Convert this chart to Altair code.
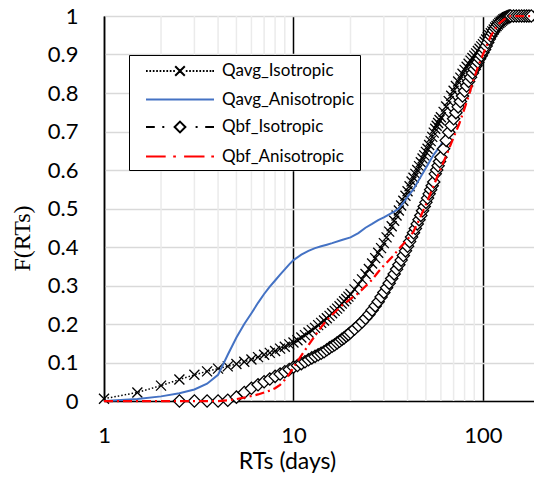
import altair as alt
import pandas as pd

SERIES = ["Qavg_Isotropic", "Qavg_Anisotropic", "Qbf_Isotropic", "Qbf_Anisotropic"]
COLORS = ["#000000", "#4472C4", "#000000", "#FF0000"]

# x grid (days) of the two marker series
ISO_X = [1, 1.5, 2, 2.5, 3, 3.5, 4, 4.5, 5, 5.5, 6, 6.5, 7, 7.5, 8, 8.5, 9, 9.5, 10,
         10.5, 11, 11.5, 12, 12.5, 13, 13.5, 14, 14.5, 15, 15.5, 16, 16.5, 17, 17.5, 18,
         18.5, 19, 19.5, 20,
         21, 22, 23, 24, 25, 26, 27, 28, 29, 30, 31, 32, 33, 34, 35, 36, 37, 38, 39, 40,
         41, 42, 43, 44, 45, 46, 47, 48, 49, 50, 51, 52, 53, 54, 55, 56, 57, 58, 59, 60,
         62, 64, 66, 68, 70, 72, 74, 76, 78, 80, 82, 84, 86, 88, 90, 92, 94, 96, 98, 100,
         102, 104, 106, 108, 110, 112, 114, 116, 118, 120, 122, 124, 126, 128, 130, 132,
         134, 136, 138, 140,
         145, 150, 155, 160, 165, 170, 175, 180]

QAVG_ISO = [0.006, 0.022, 0.04, 0.056, 0.068, 0.077, 0.084, 0.09, 0.096, 0.102, 0.108,
            0.114, 0.12, 0.125, 0.13, 0.136, 0.141, 0.147, 0.152,
            0.158, 0.165, 0.171, 0.178, 0.184, 0.19, 0.197, 0.203, 0.209, 0.215, 0.221,
            0.228, 0.234, 0.24, 0.246, 0.253, 0.259, 0.265, 0.271, 0.278,
            0.29, 0.303, 0.316, 0.33, 0.343, 0.357, 0.371, 0.385, 0.397, 0.41,
            0.425, 0.44, 0.454, 0.468, 0.482, 0.495, 0.508, 0.52, 0.533, 0.545,
            0.558, 0.57, 0.58, 0.59, 0.60, 0.61, 0.62, 0.63, 0.638, 0.647,
            0.655, 0.665, 0.675, 0.686, 0.697, 0.707, 0.715, 0.722, 0.73, 0.737,
            0.751, 0.765, 0.779, 0.793, 0.806, 0.818, 0.83, 0.84, 0.85, 0.86,
            0.868, 0.876, 0.884, 0.891, 0.897, 0.903, 0.909, 0.915, 0.921, 0.927,
            0.933, 0.939, 0.945, 0.95, 0.955, 0.96, 0.965, 0.97, 0.974, 0.978,
            0.982, 0.985, 0.988, 0.991, 0.993, 0.995, 0.997, 0.998, 0.999, 1.0,
            1.0, 1.0, 1.0, 1.0, 1.0, 1.0, 1.0, 1.0]

# Qbf_Isotropic starts at 2.5 days (ISO_X[3:])
QBF_ISO = [0, 0, 0, 0, 0.002, 0.01, 0.022, 0.033, 0.042, 0.05, 0.057, 0.064, 0.07, 0.076,
           0.082, 0.088,
           0.092, 0.097, 0.102, 0.107, 0.112, 0.116, 0.12, 0.124, 0.128, 0.133,
           0.138, 0.142, 0.146, 0.151, 0.155, 0.16, 0.164, 0.169, 0.173, 0.178,
           0.187, 0.196, 0.205, 0.215, 0.225, 0.236, 0.247, 0.258, 0.27, 0.282,
           0.294, 0.306, 0.318, 0.33, 0.342, 0.354, 0.366, 0.378, 0.39, 0.402,
           0.414, 0.426, 0.437, 0.448, 0.46, 0.471, 0.482, 0.494, 0.505, 0.516,
           0.527, 0.538, 0.549, 0.559, 0.569, 0.59, 0.60, 0.611, 0.622, 0.633,
           0.655, 0.677, 0.698, 0.716, 0.733, 0.749, 0.764, 0.778, 0.792, 0.805,
           0.818, 0.83, 0.841, 0.852, 0.862, 0.871, 0.88, 0.889, 0.897, 0.905,
           0.913, 0.922, 0.931, 0.94, 0.948, 0.955, 0.962, 0.968, 0.973, 0.978,
           0.982, 0.986, 0.989, 0.992, 0.994, 0.996, 0.998, 0.999, 1.0, 1.0,
           1.0, 1.0, 1.0, 1.0, 1.0, 1.0, 1.0, 1.0]

# x grid (days) of the two line-only series
LINE_X = [1, 1.5, 2, 2.5, 3, 3.5, 4, 4.5, 5, 5.5, 6, 6.5, 7, 7.5, 8, 8.5, 9, 9.5, 10,
          11, 12, 13, 14, 15, 16, 18, 20, 22, 24, 26, 28, 30, 32, 34, 36, 38, 40,
          43, 46, 50, 55, 60, 65, 70, 75, 80, 85, 90, 95, 100,
          110, 120, 130, 140, 150, 160, 170, 180]

QAVG_ANISO = [0.0, 0.005, 0.012, 0.02, 0.03, 0.045, 0.068, 0.12, 0.165, 0.2, 0.228, 0.255,
              0.278, 0.297, 0.313, 0.328, 0.342, 0.355, 0.366,
              0.38, 0.39, 0.397, 0.402, 0.406, 0.41, 0.418, 0.425, 0.436, 0.45, 0.46,
              0.47, 0.477, 0.485, 0.492, 0.50, 0.515, 0.53,
              0.55, 0.575, 0.605, 0.64, 0.665, 0.70, 0.738, 0.774, 0.808, 0.838, 0.865, 0.887,
              0.907, 0.95, 0.978, 0.993, 1.0, 1.0, 1.0, 1.0, 1.0]

QBF_ANISO = [0, 0, 0, 0, 0, 0, 0, 0.002, 0.005, 0.009, 0.013, 0.017, 0.022, 0.027, 0.033,
             0.042, 0.055, 0.07, 0.087,
             0.118, 0.145, 0.17, 0.192, 0.21, 0.224, 0.248, 0.265, 0.28, 0.298, 0.315,
             0.335, 0.352, 0.366, 0.38, 0.395, 0.408, 0.42,
             0.44, 0.47, 0.51, 0.56, 0.605, 0.645, 0.685, 0.72, 0.76, 0.80, 0.84, 0.873,
             0.9, 0.948, 0.978, 0.992, 1.0, 1.0, 1.0, 1.0, 1.0]

MINOR_X = [2, 3, 4, 5, 6, 7, 8, 9, 20, 30, 40, 50, 60, 70, 80, 90]
X_TICKS = [1, 10, 100]
Y_TICKS = [0, 0.1, 0.2, 0.3, 0.4, 0.5, 0.6, 0.7, 0.8, 0.9, 1]


def frame(name, xs, ys):
    assert len(xs) == len(ys), name
    return pd.DataFrame({"series": name, "x": xs, "F": ys})


df_a = frame(SERIES[0], ISO_X, QAVG_ISO)
df_c = frame(SERIES[1], LINE_X, QAVG_ANISO)
df_b = frame(SERIES[2], ISO_X[3:], QBF_ISO)
df_d = frame(SERIES[3], LINE_X, QBF_ANISO)
df_all = pd.concat([df_a, df_c, df_b, df_d], ignore_index=True)
df_minor = pd.DataFrame({"x": MINOR_X, "F": [0] * len(MINOR_X), "F2": [1] * len(MINOR_X)})

x_scale = alt.Scale(type="log", domain=[1, 186], nice=False)
y_scale = alt.Scale(domain=[0, 1], nice=False, zero=False)

x_axis = alt.Axis(values=X_TICKS, format="~g", grid=True, gridColor="#000000", gridWidth=1.5,
                  ticks=False, domainColor="#000000", domainWidth=1.5,
                  labelFont="Lato", labelFontSize=22, labelColor="#000000", labelPadding=24,
                  labelFlush=False, title="RTs (days)", titleFont="Lato", titleFontSize=23,
                  titleFontWeight="normal", titleColor="#000000", titleX=183, titleY=67,
                  titleBaseline="alphabetic")
y_axis = alt.Axis(values=Y_TICKS, format="~g", grid=True, gridColor="#d9d9d9", gridWidth=1.5,
                  ticks=False, domainColor="#000000", domainWidth=1.5,
                  labelFont="Lato", labelFontSize=22, labelColor="#000000", labelPadding=26,
                  labelFlush=False, title="F(RTs)", titleFont="Liberation Serif",
                  titleFontSize=24, titleFontWeight="normal", titleColor="#000000",
                  titleAngle=270, titleX=-70, titleY=222, titleBaseline="bottom")

X = alt.X("x:Q", scale=x_scale, axis=x_axis)
Y = alt.Y("F:Q", scale=y_scale, axis=y_axis)

# legend glyphs (line pattern + marker); symbol unit = 10 px (symbolSize 400)
DOTS_L = "".join(f"M{v},0h0.17" for v in ["-3.4", "-3.06", "-2.72", "-2.38", "-2.04", "-1.7", "-1.36", "-1.02", "-0.68"])
DOTS_R = "".join(f"M{v},0h0.17" for v in ["0.58", "0.92", "1.26", "1.6", "1.94", "2.28", "2.62", "2.96", "3.23"])
P_AVG_ISO = DOTS_L + DOTS_R + "M-0.48,-0.48L0.48,0.48M-0.48,0.48L0.48,-0.48"
P_AVG_ANISO = "M-3.4,0H3.4"
P_BF_ISO = "M-3.4,0H-2.52M-1.77,0h0.2M1.56,0h0.2M2.52,0H3.4M0,-0.54L0.54,0L0,0.54L-0.54,0Z"
P_BF_ANISO = "M-3.4,0H-1.43M-0.68,0h0.27M0.41,0H2.45M3.13,0h0.27"
GLYPHS = [P_AVG_ISO, P_AVG_ANISO, P_BF_ISO, P_BF_ANISO]

legend = alt.Legend(
    orient="none", legendX=25, legendY=39, direction="vertical",
    padding=5, rowPadding=8.5, symbolSize=400, symbolOffset=35, labelOffset=31,
    symbolStrokeWidth=2, symbolFillColor="transparent",
    labelFont="Lato", labelFontSize=17, labelColor="#000000",
    strokeColor="#000000", fillColor="#ffffff", labelLimit=300,
)

COLOR_LEG = alt.Color("series:N", scale=alt.Scale(domain=SERIES, range=COLORS), title=None,
                      legend=legend)
SHAPE_LEG = alt.Shape("series:N", scale=alt.Scale(domain=SERIES, range=GLYPHS), title=None,
                      legend=legend)

minor = alt.Chart(df_minor).mark_rule(color="#ebebeb", strokeWidth=1.5).encode(
    x=X, y=Y, y2="F2:Q")

a_line = alt.Chart(df_a).mark_line(color=COLORS[0], strokeWidth=1.5, strokeDash=[1.5, 2]).encode(x=X, y=Y)
a_pts = alt.Chart(df_a).mark_point(shape="M-1,-1L1,1M-1,1L1,-1", filled=False, size=100,
                                   color=COLORS[0], strokeWidth=1.3, opacity=1).encode(x=X, y=Y)
c_line = alt.Chart(df_c).mark_line(color=COLORS[1], strokeWidth=2).encode(x=X, y=Y)
b_line = alt.Chart(df_b).mark_line(color=COLORS[2], strokeWidth=1.5, strokeDash=[6, 3, 1.5, 3]).encode(x=X, y=Y)
b_pts = alt.Chart(df_b).mark_point(shape="diamond", filled=True, fill="#ffffff", stroke=COLORS[2],
                                   size=150, strokeWidth=1.3, opacity=1).encode(x=X, y=Y)
d_line = alt.Chart(df_d).mark_line(color=COLORS[3], strokeWidth=2.25, strokeDash=[9, 4, 2, 4]).encode(x=X, y=Y)

# legend-only layer: no rows survive the filter, it only carries the legend
legend_layer = alt.Chart(df_all).transform_filter("false").mark_point(
    filled=False, strokeWidth=2, opacity=1).encode(x=X, y=Y, color=COLOR_LEG, shape=SHAPE_LEG)

chart = alt.layer(minor, a_line, a_pts, c_line, b_line, b_pts, d_line, legend_layer).properties(
    width=430, height=385,
    padding={"left": 104, "top": 16, "right": 0, "bottom": 76},
    autosize=alt.AutoSizeParams(type="none"),
    background="#ffffff",
).configure_view(strokeWidth=0)

chart.save("out.html", embed_options={"renderer": "svg", "actions": False})
